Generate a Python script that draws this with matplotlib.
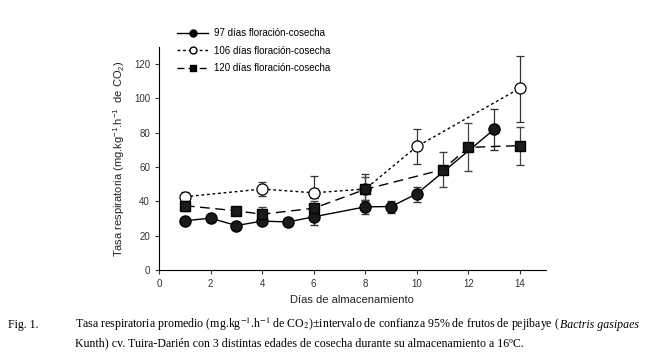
import matplotlib
matplotlib.use("Agg")
import matplotlib.pyplot as plt
from matplotlib.lines import Line2D

plt.rcParams['font.family'] = ['Liberation Sans', 'DejaVu Sans']
plt.rcParams['mathtext.fontset'] = 'custom'
plt.rcParams['mathtext.rm'] = 'Liberation Sans'
plt.rcParams['mathtext.it'] = 'Liberation Sans:italic'

# 97 días
d97 = [1, 2, 3, 4, 5, 6, 8, 9, 10, 13]
v97 = [28.7, 30.2, 25.9, 28.5, 28.0, 31.0, 36.8, 37.0, 44.4, 82.0]
lo97 = [0, 0, 0, 0, 0, 5, 4, 4, 4.5, 12]
hi97 = [0, 0, 0, 0, 0, 3, 4, 3.5, 4, 12]

# 106 días
d106 = [1, 4, 6, 8, 10, 14]
v106 = [42.7, 47.2, 45.0, 47.2, 72.0, 106.0]
lo106 = [3, 4, 3, 7, 10, 20]
hi106 = [3, 4, 10, 9, 10, 19]

# 120 días
d120 = [1, 3, 4, 6, 8, 11, 12, 14]
v120 = [37.5, 34.5, 32.5, 36.0, 47.0, 58.5, 71.5, 72.5]
lo120 = [3, 0, 4, 4, 6, 10, 14, 11]
hi120 = [3, 0, 4, 4, 7, 10, 14, 11]

labels = ['97 días floración-cosecha', '106 días floración-cosecha', '120 días floración-cosecha']
xticks = [0, 2, 4, 6, 8, 10, 12, 14]
yticks = [0, 20, 40, 60, 80, 100, 120]

fig = plt.figure(figsize=(6.52, 3.59), dpi=100)
ax = fig.add_axes([0.244, 0.248, 0.593, 0.621])

ax.errorbar(d97, v97, yerr=[lo97, hi97], color='black', lw=1.0, ls='-',
            marker='o', ms=8, mfc='#1a1a1a', mec='black', capsize=3, elinewidth=0.9,
            ecolor='#333333', label=labels[0], zorder=3)
ax.errorbar(d106, v106, yerr=[lo106, hi106], color='black', lw=1.0, ls=(0, (2, 2)),
            marker='o', ms=8, mfc='white', mec='black', mew=0.9, capsize=3, elinewidth=0.9,
            ecolor='#333333', label=labels[1], zorder=2)
ax.errorbar(d120, v120, yerr=[lo120, hi120], color='black', lw=1.0, ls=(0, (7, 4)),
            marker='s', ms=7.5, mfc='#1a1a1a', mec='black', capsize=3, elinewidth=0.9,
            ecolor='#444444', label=labels[2], zorder=3)

ax.set_xlim(0, 15)
ax.set_ylim(0, 130)
ax.set_xticks(xticks)
ax.set_yticks(yticks)
ax.spines['top'].set_visible(False)
ax.spines['right'].set_visible(False)
ax.tick_params(labelsize=7, length=3, color='#333333', labelcolor='#333333')
ax.set_xlabel('Días de almacenamiento', fontsize=8, color='#222222', labelpad=4)
ax.set_ylabel('Tasa respiratoria (mg.kg$^{-1}$.h$^{-1}$  de CO$_2$)', fontsize=8,
              color='#222222', labelpad=5)

h = [Line2D([], [], color='black', lw=1, ls='-', marker='o', ms=5, mfc='black'),
     Line2D([], [], color='black', lw=1, ls=(0, (2, 2)), marker='o', ms=5, mfc='white'),
     Line2D([], [], color='black', lw=1, ls=(0, (5, 3)), marker='s', ms=5, mfc='black')]
fig.legend(h, labels, loc='upper left', bbox_to_anchor=(0.258, 0.945), frameon=False,
           fontsize=7, handlelength=3.2, labelspacing=0.75, handletextpad=0.6)

cap_fs = 8.6
fig.text(0.012, 0.085, 'Fig. 1.', family='Liberation Serif', fontsize=cap_fs)
t1 = fig.text(0.115, 0.085,
              'Tasa respiratoria promedio (mg.kg$^{-1}$.h$^{-1}$ de CO$_2$)±intervalo de confianza 95% '
              'de frutos de pejibaye (',
              family='Liberation Serif', fontsize=cap_fs, math_fontfamily='stix')
fig.canvas.draw()
bb = t1.get_window_extent(renderer=fig.canvas.get_renderer())
x_end = bb.x1 / fig.bbox.width
fig.text(x_end + 0.001, 0.085, 'Bactris gasipaes', family='Liberation Serif',
         style='italic', fontsize=cap_fs)
fig.text(0.115, 0.036,
         'Kunth) cv. Tuira-Darién con 3 distintas edades de cosecha durante su almacenamiento a 16ºC.',
         family='Liberation Serif', fontsize=cap_fs)

fig.savefig('out.png', dpi=100)
